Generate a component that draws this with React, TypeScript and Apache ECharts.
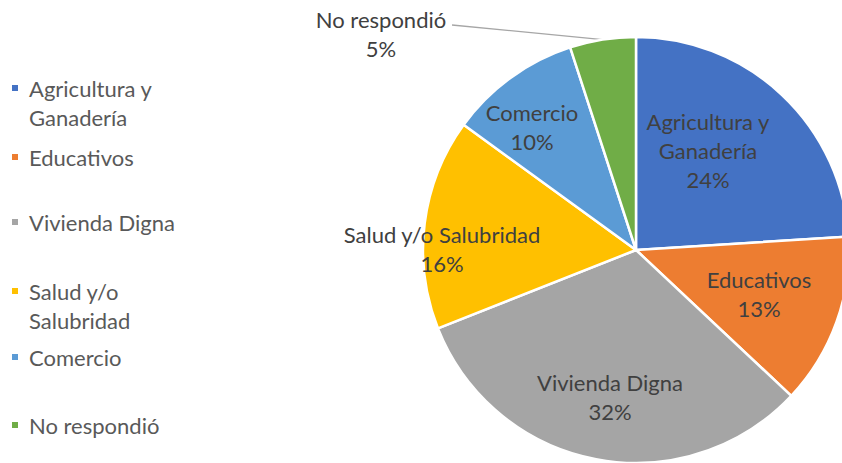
import React, { useEffect, useRef } from "react";
import * as echarts from "echarts";

const categories = [
  "Agricultura y Ganadería",
  "Educativos",
  "Vivienda Digna",
  "Salud y/o Salubridad",
  "Comercio",
  "No respondió",
];
const values = [24, 13, 32, 16, 10, 5];
const colors = ["#4472C4", "#ED7D31", "#A5A5A5", "#FFC000", "#5B9BD5", "#70AD47"];

// how names are broken over lines
const pieLabelText: Record<string, string> = {
  "Agricultura y Ganadería": "Agricultura y\nGanadería",
};
const legendText: Record<string, string> = {
  "Agricultura y Ganadería": "Agricultura y\nGanadería",
  "Salud y/o Salubridad": "Salud y/o\nSalubridad",
};

// layout (styles) — label centres and legend row centres
const labelPos = [
  [708, 150],
  [759, 294],
  [610, 397],
  [442, 249],
  [532, 127],
  [381, 34],
];
const legendRowY = [88, 157, 222, 291, 357, 425];

const FONT = "Lato, 'Noto Sans', sans-serif";
const FS = 22;
const LH = 29;

export default function App() {
  const ref = useRef<HTMLDivElement>(null);
  useEffect(() => {
    if (!ref.current) return;
    const chart = echarts.init(ref.current, undefined, { renderer: "svg" });
    const legends = categories.map((name, i) => {
      const multi = !!legendText[name];
      return {
        data: [name],
        orient: "vertical",
        left: 10,
        top: legendRowY[i] - (multi ? LH * 1.5 : LH / 2),
        padding: 0,
        icon: "rect",
        itemWidth: 8,
        itemHeight: 8,
        selectedMode: false,
        formatter: (n: string) => (legendText[n] ? "\n" + legendText[n] : n),
        textStyle: {
          color: "#595959",
          fontSize: FS,
          fontFamily: FONT,
          lineHeight: LH,
          padding: [0, 0, 0, 5],
        },
      };
    });
    chart.setOption({
      animation: false,
      color: colors,
      legend: legends,
      series: [
        {
          type: "pie",
          center: [636, 250],
          radius: 213,
          startAngle: 90,
          clockwise: true,
          itemStyle: { borderColor: "#ffffff", borderWidth: 2.5 },
          label: {
            show: true,
            position: "inside",
            color: "#404040",
            fontSize: FS,
            fontFamily: FONT,
            lineHeight: LH,
            align: "center",
            formatter: (p: any) => (pieLabelText[p.name] || p.name) + "\n" + p.value + "%",
          },
          labelLine: { show: false },
          labelLayout: (p: any) => {
            const [x, y] = labelPos[p.dataIndex];
            const res: any = { x, y, align: "center", verticalAlign: "middle" };
            if (p.dataIndex === 5 && p.labelLinePoints) {
              const start = p.labelLinePoints[0];
              res.labelLinePoints = [start, [452, 25]];
            }
            return res;
          },
          data: categories.map((name, i) =>
            i === 5
              ? {
                  name,
                  value: values[i],
                  label: { position: "outside" },
                  labelLine: { show: true, lineStyle: { color: "#A6A6A6", width: 1.3 } },
                }
              : { name, value: values[i] }
          ),
        },
      ],
    });
    return () => chart.dispose();
  }, []);
  return (
    <div
      ref={ref}
      style={{ position: "fixed", left: 0, top: 0, width: 842, height: 463, background: "#fff" }}
    />
  );
}
